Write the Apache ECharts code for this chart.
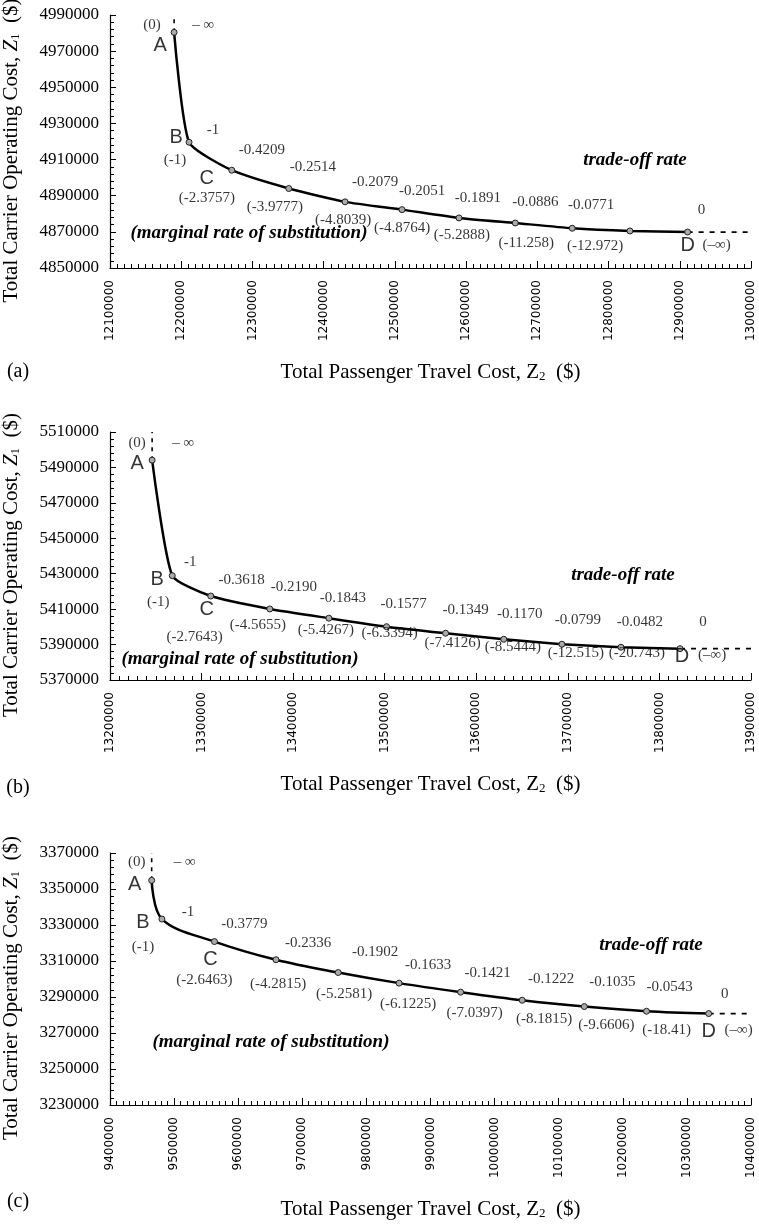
<!DOCTYPE html>
<html><head><meta charset="utf-8">
<script src="https://cdn.jsdelivr.net/npm/echarts@6/dist/echarts.min.js"></script>
<style>html,body{margin:0;padding:0;background:#fff}#c{width:759px;height:1224px}</style>
</head><body><div id="c"></div>
<script>
// ---------------- DATA ----------------
// Panel (a)
const aZ2 = [12190000, 12211000, 12271000, 12351000, 12430000, 12510000, 12590000, 12669000, 12749000, 12830000, 12911000];
const aZ1 = [4980400, 4919600, 4904100, 4894000, 4886600, 4882300, 4877700, 4874900, 4872000, 4870500, 4869900];
const aMarginal = ["(0)", "(-1)", "(-2.3757)", "(-3.9777)", "(-4.8039)", "(-4.8764)", "(-5.2888)", "(-11.258)", "(-12.972)", "", "(\u2013\u221e)"];
const aTradeoff = ["\u2013 \u221e", "-1", "-0.4209", "-0.2514", "-0.2079", "-0.2051", "-0.1891", "-0.0886", "-0.0771", "", "0"];
const aXRange = [12100000, 13000000];
const aYRange = [4850000, 4990000];

// Panel (b)
const bZ2 = [13246000, 13268000, 13310000, 13374500, 13439000, 13502000, 13566500, 13630000, 13693500, 13758000, 13822500];
const bZ1 = [5494100, 5428900, 5417400, 5410100, 5404900, 5400100, 5396400, 5393000, 5390200, 5388500, 5387700];
const bMarginal = ["(0)", "(-1)", "(-2.7643)", "(-4.5655)", "(-5.4267)", "(-6.3394)", "(-7.4126)", "(-8.5444)", "(-12.515)", "(-20.743)", "(\u2013\u221e)"];
const bTradeoff = ["\u2013 \u221e", "-1", "-0.3618", "-0.2190", "-0.1843", "-0.1577", "-0.1349", "-0.1170", "-0.0799", "-0.0482", "0"];
const bXRange = [13200000, 13900000];
const bYRange = [5370000, 5510000];

// Panel (c)
const cZ2 = [9465000, 9481000, 9563000, 9659000, 9756000, 9851000, 9947000, 10043000, 10140000, 10237000, 10334000];
const cZ1 = [3354800, 3333300, 3320800, 3310700, 3303600, 3297700, 3292700, 3288200, 3284700, 3282100, 3280800];
const cMarginal = ["(0)", "(-1)", "(-2.6463)", "(-4.2815)", "(-5.2581)", "(-6.1225)", "(-7.0397)", "(-8.1815)", "(-9.6606)", "(-18.41)", "(\u2013\u221e)"];
const cTradeoff = ["\u2013 \u221e", "-1", "-0.3779", "-0.2336", "-0.1902", "-0.1633", "-0.1421", "-0.1222", "-0.1035", "-0.0543", "0"];
const cXRange = [9400000, 10400000];
const cYRange = [3230000, 3370000];

const pointLetters = ["A", "B", "C", "", "", "", "", "", "", "", "D"];
const panelTags = ["(a)", "(b)", "(c)"];
const xStep = 100000;
const yStep = 20000;

// ---------------- LAYOUT (positions / offsets / styles only) ----------------
const gridTops = [15, 432, 853];
const gridHeights = [253, 248, 252];
const gridLeft = 110, gridRight = 8;
const smoothFactors = [0.18, 0.18, 0.35];
const margOffsets = [
  [[-22,-7],[-14,18],[-25,28],[-14,19],[-2,18],[0,18],[3,17],[11,20],[23,18],[0,0],[29,13]],
  [[-15,-17],[-14,26],[-16,41],[-12,16],[-3,12],[3,6],[7,10],[9,8],[14,9],[16,6],[32,6]],
  [[-15,-18],[-19,28],[-10,39],[2,24],[6,22],[9,21],[14,21],[22,19],[22,19],[20,19],[30,17]]
];
const tradeOffsets = [
  [[29,-7],[24,-12],[30,-20],[24,-21],[30,-20],[20,-19],[19,-20],[20,-21],[19,-23],[0,0],[14,-22]],
  [[31,-17],[18,-14],[31,-16],[24,-22],[14,-20],[17,-23],[20,-23],[16,-25],[16,-24],[19,-25],[23,-27]],
  [[33,-18],[26,-7],[30,-17],[32,-17],[37,-20],[29,-18],[27,-19],[29,-21],[28,-24],[23,-24],[16,-19]]
];
const letterOffsets = [
  [[-14,13],[-13,-5],[-25,8],0,0,0,0,0,0,0,[0,13]],
  [[-15,3],[-15,4],[-4,13],0,0,0,0,0,0,0,[2,8]],
  [[-17,4],[-19,3],[-4,18],0,0,0,0,0,0,0,[0,18]]
];
const tradeTextPos = [[635,160],[623,575],[651,945]];
const margTextPos = [[249,233],[240,659],[271,1042]];
const tagPos = [[18,372],[18,788],[18,1202]];

// ---------------- BUILD ----------------
const panels = [
  {x: aZ2, y: aZ1, marg: aMarginal, trade: aTradeoff, xr: aXRange, yr: aYRange},
  {x: bZ2, y: bZ1, marg: bMarginal, trade: bTradeoff, xr: bXRange, yr: bYRange},
  {x: cZ2, y: cZ1, marg: cMarginal, trade: cTradeoff, xr: cXRange, yr: cYRange}
];
const SERIF = '"Liberation Serif", "DejaVu Serif", serif';
const SANS = '"Liberation Sans", Arial, sans-serif';

const grids = [], xAxes = [], yAxes = [], series = [], graphics = [];
panels.forEach((p, i) => {
  grids.push({left: gridLeft, right: gridRight, top: gridTops[i], height: gridHeights[i],
    containLabel: false, outerBoundsMode: 'none'});
  xAxes.push({
    type: 'value', gridIndex: i, min: p.xr[0], max: p.xr[1], interval: xStep,
    axisLine: {show: true, onZero: false, lineStyle: {color: '#000', width: 1.2}},
    axisTick: {show: true, inside: true, length: 7, lineStyle: {color: '#000'}},
    minorTick: {show: true, splitNumber: 10, length: 4, lineStyle: {color: '#000'}},
    splitLine: {show: false},
    axisLabel: {rotate: 90, margin: 12, color: '#000', fontFamily: '"DejaVu Sans", sans-serif', fontSize: 12, formatter: v => String(v)},
    name: 'Total Passenger Travel Cost, Z{s|2}  ($)',
    nameLocation: 'middle', nameGap: 94,
    nameTextStyle: {fontFamily: SERIF, fontSize: 21, color: '#000',
      rich: {s: {fontFamily: SERIF, fontSize: 13, color: '#000', padding: [8, 0, 0, 0]}}}
  });
  yAxes.push({
    type: 'value', gridIndex: i, min: p.yr[0], max: p.yr[1], interval: yStep,
    axisLine: {show: true, onZero: false, lineStyle: {color: '#000', width: 1.2}},
    axisTick: {show: true, inside: true, length: 6, lineStyle: {color: '#000'}},
    minorTick: {show: true, splitNumber: 5, length: 4, lineStyle: {color: '#000'}},
    splitLine: {show: false},
    axisLabel: {margin: 11, color: '#000', fontFamily: SERIF, fontSize: 17, formatter: v => String(v)},
    name: 'Total Carrier Operating Cost, {i|Z}{s|1}  ($)',
    nameLocation: 'middle', nameGap: 88, nameRotate: 90,
    nameTextStyle: {fontFamily: SERIF, fontSize: 21, color: '#000', padding: [0, 18, 0, 0],
      rich: {i: {fontFamily: SERIF, fontSize: 21, fontStyle: 'italic', color: '#000'},
             s: {fontFamily: SERIF, fontSize: 13, color: '#000', padding: [8, 0, 0, 0]}}}
  });
  const pts = p.x.map((v, k) => [v, p.y[k]]);
  const last = pts.length - 1;
  // dashed extensions
  series.push({type: 'line', xAxisIndex: i, yAxisIndex: i, silent: true, symbol: 'none', z: 2,
    data: [[p.x[0], p.y[0]], [p.x[0], p.yr[1]]],
    lineStyle: {color: '#000', width: 1.6, type: [4, 5]}});
  series.push({type: 'line', xAxisIndex: i, yAxisIndex: i, silent: true, symbol: 'none', z: 2,
    data: [[p.x[last], p.y[last]], [p.xr[1], p.y[last]]],
    lineStyle: {color: '#000', width: 1.8, type: [5, 6]}});
  // main frontier
  series.push({type: 'line', xAxisIndex: i, yAxisIndex: i, silent: true, z: 5,
    data: pts, smooth: smoothFactors[i], symbol: 'circle', symbolSize: 6, showSymbol: true,
    itemStyle: {color: '#aaa', borderColor: '#222', borderWidth: 1},
    lineStyle: {color: '#000', width: 2.5}});
  const labelSeries = (texts, offs, font, size) => ({
    type: 'scatter', xAxisIndex: i, yAxisIndex: i, silent: true, z: 6,
    symbolSize: 0.1, itemStyle: {color: 'rgba(0,0,0,0)'},
    data: pts.map((pt, k) => ({
      value: pt,
      label: {show: !!texts[k], formatter: texts[k] || '', position: 'inside',
        offset: offs[k] || [0, 0], align: 'center', verticalAlign: 'middle',
        fontFamily: font, fontSize: size, color: '#000'}
    }))
  });
  series.push(labelSeries(p.marg, margOffsets[i], SERIF, 15));
  series.push(labelSeries(p.trade, tradeOffsets[i], SERIF, 15));
  series.push(labelSeries(pointLetters, letterOffsets[i], SANS, 20));

  graphics.push({type: 'text', x: tradeTextPos[i][0], y: tradeTextPos[i][1], silent: true,
    style: {text: 'trade-off rate', font: 'italic bold 19px ' + SERIF, fill: '#000', align: 'center', verticalAlign: 'middle'}});
  graphics.push({type: 'text', x: margTextPos[i][0], y: margTextPos[i][1], silent: true,
    style: {text: '(marginal rate of substitution)', font: 'italic bold 19px ' + SERIF, fill: '#000', align: 'center', verticalAlign: 'middle'}});
  graphics.push({type: 'text', x: tagPos[i][0], y: tagPos[i][1], silent: true,
    style: {text: panelTags[i], font: '20px ' + SERIF, fill: '#000', align: 'center', verticalAlign: 'middle'}});
});

const chart = echarts.init(document.getElementById('c'), null, {renderer: 'canvas'});
chart.setOption({
  animation: false,
  backgroundColor: '#fff',
  grid: grids, xAxis: xAxes, yAxis: yAxes, series: series, graphic: graphics
});
</script></body></html>
